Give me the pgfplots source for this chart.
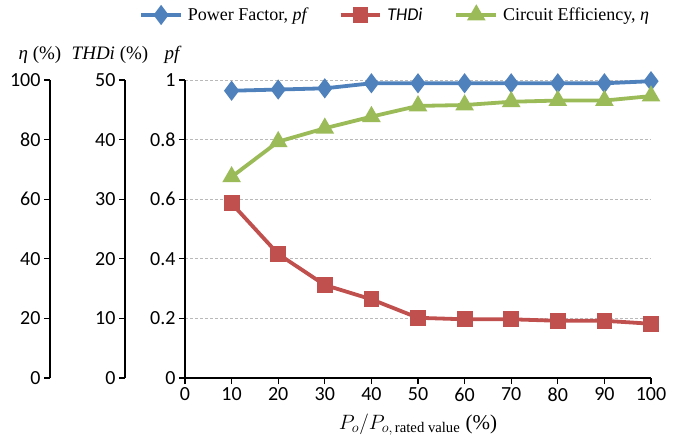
\documentclass[border=0pt]{standalone}
\usepackage{amsmath}
\usepackage{fontspec}
\setmainfont{Carlito}
\newfontfamily\tnr{Liberation Serif}
\usepackage{pgfplots}
\pgfplotsset{compat=1.18}

\definecolor{pfblue}{RGB}{79,129,189}
\definecolor{thdred}{RGB}{192,80,77}
\definecolor{effgreen}{RGB}{155,187,89}

\pgfplotsset{
  base/.style={
    scale only axis, height=298pt,
    ymin=0, clip=false,
    tick align=outside, major tick length=6pt,
    axis line style={black, line width=1.6pt},
    tick style={black, line width=1.3pt},
    tick label style={font=\fontsize{20}{23}\selectfont},
    /pgf/number format/assume math mode=true,
  },
  sidey/.style={base, width=1pt, xmin=0, xmax=1,
    axis x line=none, axis y line*=left},
  overlay/.style={scale only axis, width=466pt, height=298pt,
    xmin=0, xmax=100, ymin=0, hide axis, clip=false},
}

\begin{document}
\begin{tikzpicture}
\useasboundingbox (-185pt,-69pt) rectangle (503pt,378pt);

% pf axis (main)
\begin{axis}[base, name=main, at={(0,0)}, anchor=south west,
  width=466pt, xmin=0, xmax=100, ymax=1,
  axis x line*=bottom, axis y line*=left,
  xtick={0,10,...,100}, ytick={0,0.2,0.4,0.6,0.8,1},
  ymajorgrids, grid style={densely dashed, gray!55, line width=0.8pt},
  xlabel={\tnr $P_o/P_{o,\,\text{\tnr rated value}}$ (\%)},
  xlabel style={font=\tnr\fontsize{21}{24}\selectfont, yshift=-6pt},
  legend columns=3,
  legend style={at={(-0.105,1.218)}, anchor=west, draw=none, fill=none,
    font=\fontsize{18}{21}\selectfont,
    /tikz/every odd column/.append style={column sep=3pt},
    /tikz/every even column/.append style={column sep=30pt}},
  legend image code/.code={\draw[mark repeat=2, mark phase=2]
    plot coordinates {(0cm,0cm) (0.7cm,0cm) (1.4cm,0cm)};},
]
\addplot[pfblue, line width=3.8pt, mark=diamond*, mark size=7pt,
  mark options={solid}] coordinates {
  (10,0.964)(20,0.968)(30,0.972)(40,0.989)(50,0.989)
  (60,0.989)(70,0.989)(80,0.989)(90,0.989)(100,0.996)
};
\addlegendentry{{\tnr Power Factor, \itshape pf}}
\addlegendimage{thdred, line width=3.8pt, mark=square*, mark size=6pt}
\addlegendentry{\textit{THDi}}
\addlegendimage{effgreen, line width=3.8pt, mark=triangle*, mark size=7pt}
\addlegendentry{{\tnr Circuit Efficiency, \itshape η}}
\end{axis}

% THDi data
\begin{axis}[overlay, at={(0,0)}, anchor=south west, ymax=50]
\addplot[thdred, line width=3.8pt, mark=square*, mark size=6pt] coordinates {
  (10,29.3)(20,20.8)(30,15.6)(40,13.2)(50,10.1)
  (60,9.85)(70,9.85)(80,9.6)(90,9.6)(100,9.1)
};
\end{axis}

% efficiency data
\begin{axis}[overlay, at={(0,0)}, anchor=south west, ymax=100]
\addplot[effgreen, line width=3.8pt, mark=triangle*, mark size=7pt] coordinates {
  (10,67.5)(20,79.3)(30,83.8)(40,87.7)(50,91.3)
  (60,91.6)(70,92.7)(80,93.1)(90,93.1)(100,94.6)
};
\end{axis}

% extra y axes
\begin{axis}[sidey, at={(-60pt,0)}, anchor=south west, ymax=50,
  ytick={0,10,...,50}]
\end{axis}
\begin{axis}[sidey, at={(-135pt,0)}, anchor=south west, ymax=100,
  ytick={0,20,...,100}]
\end{axis}

% axis titles
\node[font=\tnr\fontsize{19}{22}\selectfont] at (-145pt,323pt) {\textit{η} (\%)};
\node[font=\tnr\fontsize{19}{22}\selectfont] at (-75pt,323pt) {\textit{THDi} (\%)};
\node[font=\tnr\fontsize{19}{22}\selectfont] at (-12pt,323pt) {\textit{pf}};
\end{tikzpicture}
\end{document}
